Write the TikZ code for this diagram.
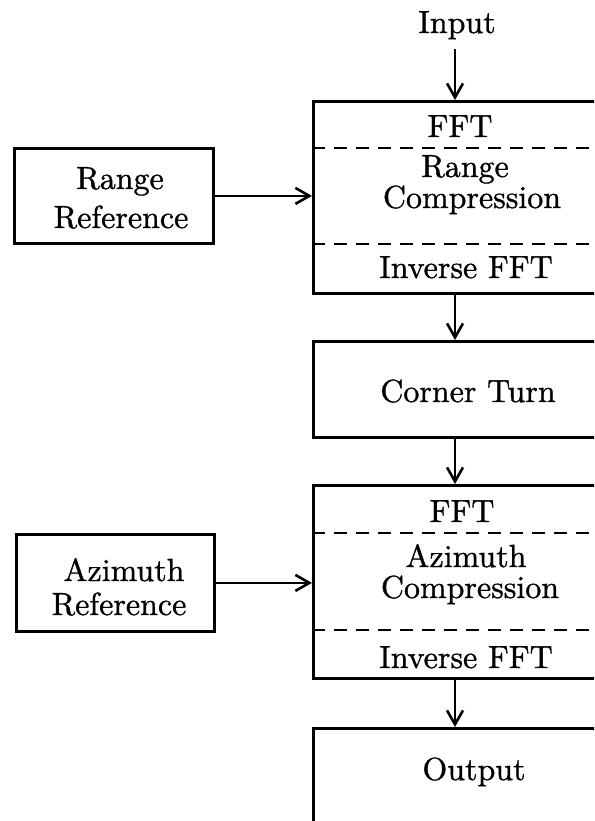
\documentclass[tikz,border=0pt]{standalone}
\usepackage{fontspec}
\setmainfont{lmroman10-regular.otf}[FakeBold=1.0]
\usetikzlibrary{arrows.meta}
\begin{document}
\begin{tikzpicture}[x=1pt,y=-1pt,
  box/.style={draw, line width=2.8pt, inner sep=0pt, anchor=north west},
  txt/.style={inner sep=0pt, anchor=base, font=\fontsize{32}{38}\selectfont},
  ltxt/.style={inner sep=0pt, anchor=base, font=\fontsize{32}{38}\selectfont},
  sep/.style={line width=2.6pt, dash pattern=on 13pt off 9pt},
  arr/.style={line width=2.8pt, -{Straight Barb[length=14pt,width=16pt,line width=2.6pt]}}]
\useasboundingbox (0,0) rectangle (594,821);
\clip (0,0) rectangle (594,821);
\coordinate (cx) at (455,0);
% boxes
\node[box, minimum width=340pt, minimum height=192pt] (b1) at (312,100) {};
\node[box, minimum width=340pt, minimum height=96pt] (ct) at (312,340) {};
\node[box, minimum width=340pt, minimum height=193pt] (b2) at (312,484) {};
\node[box, minimum width=340pt, minimum height=98pt] (out) at (312,727) {};
\node[box, minimum width=199pt, minimum height=95pt] (rr) at (13,147) {};
\node[box, minimum width=198pt, minimum height=97pt] (ar) at (15,533) {};
% dashed separators
\coordinate (d1) at (0,148);
\coordinate (d2) at (0,244);
\coordinate (d3) at (0,533);
\coordinate (d4) at (0,630);
\draw[sep] (b1.west |- d1) -- (b1.east |- d1);
\draw[sep] (b1.west |- d2) -- (b1.east |- d2);
\draw[sep] (b2.west |- d3) -- (b2.east |- d3);
\draw[sep] (b2.west |- d4) -- (b2.east |- d4);
% texts
\node[txt] (in) at (457,33) {Input};
\node[txt] (f1) at (460,137) {FFT};
\node[txt] (r1) at (465,177) {Range};
\node[txt] (c1) at (472,208) {Compression};
\node[txt] (i1) at (466,278) {Inverse FFT};
\node[txt] (ctt) at (468,402) {Corner Turn};
\node[txt] (f2) at (462,522) {FFT};
\node[txt] (a2) at (466,567) {Azimuth};
\node[txt] (c2) at (470,598) {Compression};
\node[txt] (i2) at (466,668) {Inverse FFT};
\node[txt] (o) at (474,780) {Output};
\node[ltxt] (rr1) at (120,189) {Range};
\node[ltxt] (rr2) at (121,228) {Reference};
\node[ltxt] (ar1) at (124,581) {Azimuth};
\node[ltxt] (ar2) at (119,615) {Reference};
% connectors
\draw[arr, shorten <=10pt] (in.south -| cx) -- (b1.north -| cx);
\draw[arr] (b1.south -| cx) -- (ct.north -| cx);
\draw[arr] (ct.south -| cx) -- (b2.north -| cx);
\draw[arr] (b2.south -| cx) -- (out.north -| cx);
\draw[arr] (rr.east) -- (b1.west |- rr.east);
\draw[arr] (ar.east) -- (b2.west |- ar.east);
\end{tikzpicture}
\end{document}
